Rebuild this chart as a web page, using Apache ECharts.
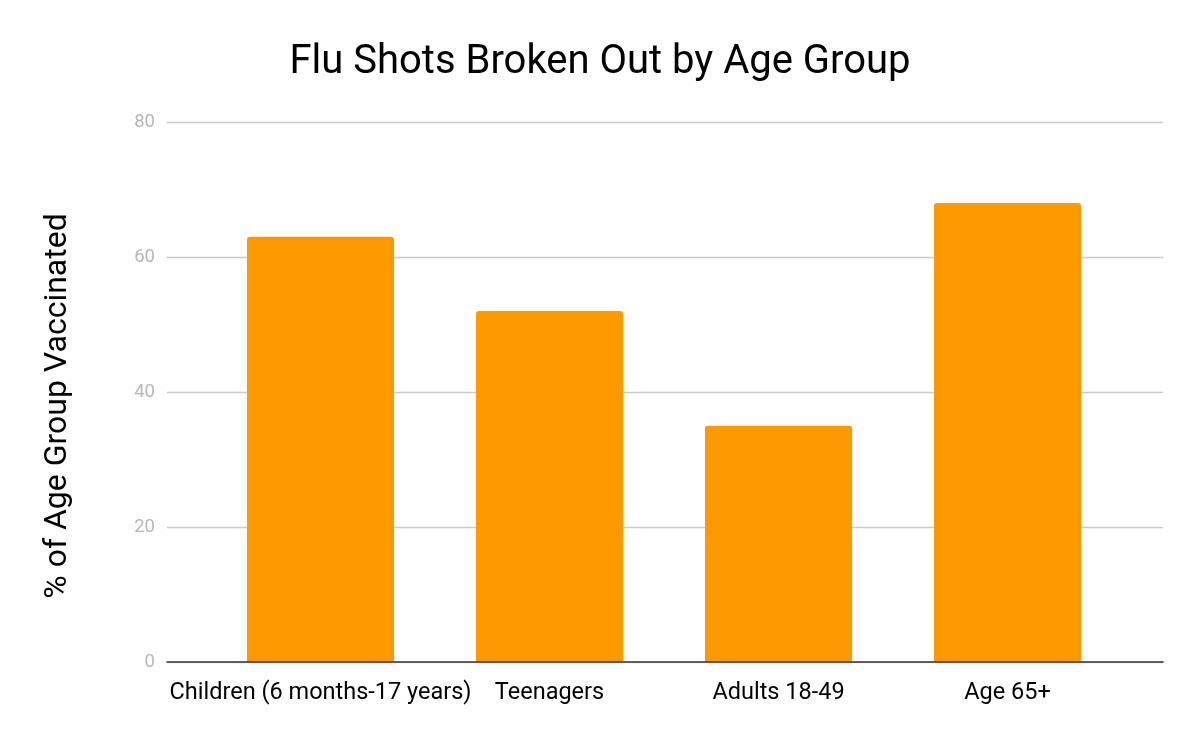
<!DOCTYPE html>
<html>
<head>
<meta charset="utf-8">
<script src="https://cdn.jsdelivr.net/npm/echarts@6/dist/echarts.min.js"></script>
<style>
html,body{margin:0;padding:0;background:#fff;}
#chart{width:1200px;height:742px;}
</style>
</head>
<body>
<div id="chart"></div>
<script>
var categories = ['Children (6 months-17 years)', 'Teenagers', 'Adults 18-49', 'Age 65+'];
var vaccinated = [63, 52, 35, 68];
var yTicks = [0, 20, 40, 60, 80];

var chart = echarts.init(document.getElementById('chart'));
var font = 'Roboto';
chart.setOption({
  backgroundColor: '#fff',
  animation: false,
  title: {
    text: 'Flu Shots Broken Out by Age Group',
    left: 'center',
    top: 38,
    textStyle: { fontFamily: font, fontSize: 40, fontWeight: 'normal', color: '#000' }
  },
  grid: [
    { left: 167, right: 37, top: 122, bottom: 80 },
    { left: 206, right: 78, top: 122, bottom: 80 }
  ],
  xAxis: [
    {
      gridIndex: 0, type: 'category', data: categories, z: 5,
      axisLine: { show: true, lineStyle: { color: '#333', width: 1.6 } },
      axisTick: { show: false }, axisLabel: { show: false }, splitLine: { show: false }
    },
    {
      gridIndex: 1, type: 'category', data: categories,
      axisLine: { show: false }, axisTick: { show: false },
      axisLabel: { fontFamily: font, fontSize: 23.5, color: '#000', margin: 19, interval: 0 }
    }
  ],
  yAxis: [
    {
      gridIndex: 0, type: 'value', min: yTicks[0], max: yTicks[yTicks.length - 1], interval: 20,
      name: '% of Age Group Vaccinated', nameLocation: 'middle', nameGap: 93,
      nameTextStyle: { fontFamily: font, fontSize: 32, color: '#000', padding: [0, 28, 0, 0] },
      axisLine: { show: false }, axisTick: { show: false },
      axisLabel: { fontFamily: font, fontSize: 18.5, color: '#b7b7b7', margin: 12 },
      splitLine: { lineStyle: { color: '#cccccc', width: 1.3 } }
    },
    {
      gridIndex: 1, type: 'value', min: yTicks[0], max: yTicks[yTicks.length - 1], interval: 20,
      show: false
    }
  ],
  series: [{
    type: 'bar',
    xAxisIndex: 1, yAxisIndex: 1,
    data: vaccinated,
    barWidth: 147,
    itemStyle: { color: '#ff9900', borderRadius: [3, 3, 0, 0] }
  }]
});
</script>
</body>
</html>
